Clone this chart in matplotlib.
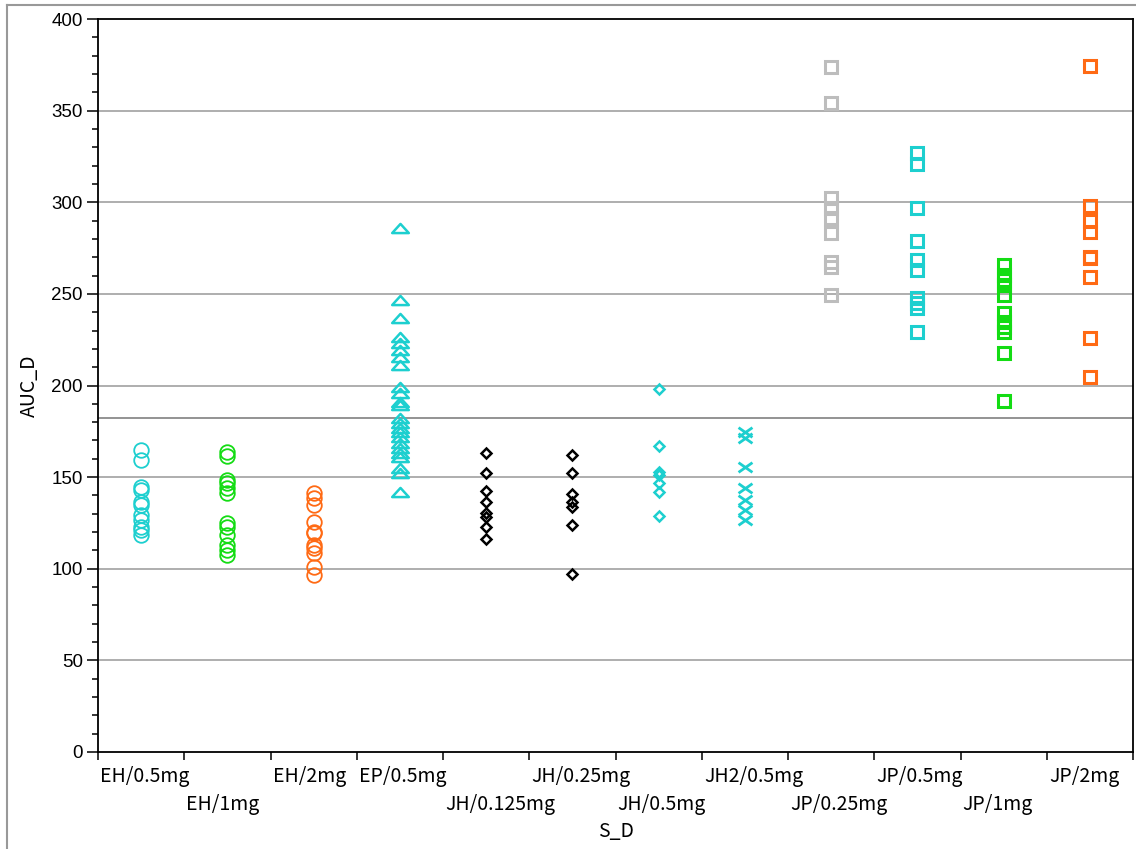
"""Scatter of AUC_D by S_D group, recreated with matplotlib."""

import matplotlib
matplotlib.use("Agg")
import matplotlib.pyplot as plt
from matplotlib.lines import Line2D
from matplotlib.path import Path

plt.rcParams["font.family"] = ["Noto Sans CJK JP", "DejaVu Sans"]

categories = [
    "EH/0.5mg", "EH/1mg", "EH/2mg", "EP/0.5mg", "JH/0.125mg", "JH/0.25mg",
    "JH/0.5mg", "JH2/0.5mg", "JP/0.25mg", "JP/0.5mg", "JP/1mg", "JP/2mg",
]
# which row of the staggered axis labels each category sits in
label_rows = [0, 1, 0, 0, 1, 0, 1, 0, 1, 0, 1, 0]

eh_05 = [164.8, 159.3, 144.8, 143.0, 136.6, 134.8, 129.3, 126.6, 123.0, 121.1, 118.4]
eh_1 = [163.9, 161.5, 148.4, 146.6, 143.9, 141.2, 124.8, 123.0, 118.4, 113.0, 110.2, 107.5]
eh_2 = [141.2, 138.4, 134.8, 125.7, 120.2, 119.3, 113.0, 111.2, 108.4, 101.1, 96.6]
ep_05 = [285.8, 246.7, 236.7, 226.6, 223.0, 219.4, 215.7, 211.2, 199.4, 195.7, 191.2,
         189.4, 182.1, 179.4, 176.6, 174.8, 172.1, 168.5, 165.7, 163.0, 161.1, 154.8,
         152.1, 142.0]
jh_0125 = [163.0, 152.4, 142.4, 136.6, 130.6, 128.1, 122.6, 116.1]
jh_025 = [162.1, 152.4, 140.8, 136.6, 133.5, 123.7, 97.1]
jh_05 = [198.1, 167.0, 153.0, 151.2, 146.6, 142.0, 128.8]
jh2_05 = [174.8, 171.2, 155.7, 143.9, 137.5, 132.1, 126.6]
jp_025 = [374.0, 354.4, 302.2, 296.7, 291.2, 283.4, 267.6, 264.8, 249.4]
jp_05 = [327.1, 320.9, 296.7, 278.9, 268.5, 263.0, 247.6, 244.8, 242.1, 229.0]
jp_1 = [265.8, 260.3, 257.6, 254.8, 249.4, 239.4, 234.8, 232.1, 229.4, 217.6, 191.7]
jp_2 = [374.5, 298.1, 289.8, 283.6, 270.3, 269.5, 259.4, 226.1, 204.5]

series = [eh_05, eh_1, eh_2, ep_05, jh_0125, jh_025, jh_05, jh2_05, jp_025, jp_05, jp_1, jp_2]
ref_line = 182.3

CYAN = "#1dcfcf"
GREEN = "#14dc14"
ORANGE = "#ff6a14"
GREY = "#bdbdbd"

# flattened triangle and x shapes as in the original
tri = Path([(-1.0, -0.55), (1.0, -0.55), (0.0, 0.55), (-1.0, -0.55)],
           [Path.MOVETO, Path.LINETO, Path.LINETO, Path.CLOSEPOLY])
cross = Path([(-1.0, -0.7), (1.0, 0.7), (-1.0, 0.7), (1.0, -0.7)],
             [Path.MOVETO, Path.LINETO, Path.MOVETO, Path.LINETO])

styles = [
    dict(marker="o", color=CYAN, ms=10.5, mew=1.3),
    dict(marker="o", color=GREEN, ms=10.5, mew=1.3),
    dict(marker="o", color=ORANGE, ms=10.5, mew=1.3),
    dict(marker=tri, color=CYAN, ms=12, mew=1.8),
    dict(marker="D", color="black", ms=5.2, mew=1.8),
    dict(marker="D", color="black", ms=5.2, mew=1.8),
    dict(marker="D", color=CYAN, ms=5.2, mew=1.8),
    dict(marker=cross, color=CYAN, ms=10, mew=2.0),
    dict(marker="s", color=GREY, ms=8.2, mew=2.2),
    dict(marker="s", color=CYAN, ms=8.2, mew=2.2),
    dict(marker="s", color=GREEN, ms=8.2, mew=2.2),
    dict(marker="s", color=ORANGE, ms=8.2, mew=2.2),
]

fig = plt.figure(figsize=(11.36, 8.49), dpi=100)
ax = fig.add_axes([98 / 1136, 97 / 849, 1035 / 1136, 733 / 849])

for i, (vals, st) in enumerate(zip(series, styles)):
    ax.plot([i] * len(vals), vals, linestyle="none", marker=st["marker"],
            markersize=st["ms"], markeredgewidth=st["mew"],
            markeredgecolor=st["color"], markerfacecolor="none", zorder=3)

ax.set_xlim(-0.5, len(categories) - 0.5)
ax.set_ylim(0, 400)
ax.set_yticks(range(0, 401, 50))
ax.set_yticks(range(0, 401, 10), minor=True)
ax.set_xticks([i - 0.5 for i in range(len(categories) + 1)])
ax.set_xticklabels([])
ax.tick_params(axis="y", which="major", length=8, width=1.1, pad=3, labelsize=13.5)
ax.tick_params(axis="y", which="minor", length=4, width=1.1)
ax.tick_params(axis="x", which="major", length=6, width=1.1)
for lab in ax.get_yticklabels():
    lab.set_family(["Liberation Sans", "DejaVu Sans"])
for sp in ax.spines.values():
    sp.set_linewidth(1.3)

for y in range(50, 400, 50):
    ax.axhline(y, color="#a8a8a8", lw=1.3, zorder=1)
ax.axhline(ref_line, color="#808080", lw=1.2, zorder=1)

for i, (name, row) in enumerate(zip(categories, label_rows)):
    ax.annotate(name, xy=(i - 0.5, 0), xycoords=("data", "axes fraction"),
                xytext=(1.5, -10 - row * 20.5), textcoords="offset points",
                ha="left", va="top", fontsize=14)

ax.annotate("S_D", xy=(0.5, 0), xycoords="axes fraction",
            xytext=(0, -50), textcoords="offset points",
            ha="center", va="top", fontsize=14)
ax.set_ylabel("AUC_D", fontsize=14, labelpad=8)

# thin grey frame on the left and top of the figure
fig.add_artist(Line2D([7 / 1136, 7 / 1136], [0, 1 - 5 / 849], color="#999999", lw=1.5))
fig.add_artist(Line2D([7 / 1136, 1], [1 - 5 / 849, 1 - 5 / 849], color="#999999", lw=1.5))

fig.savefig("out.png", dpi=100)
